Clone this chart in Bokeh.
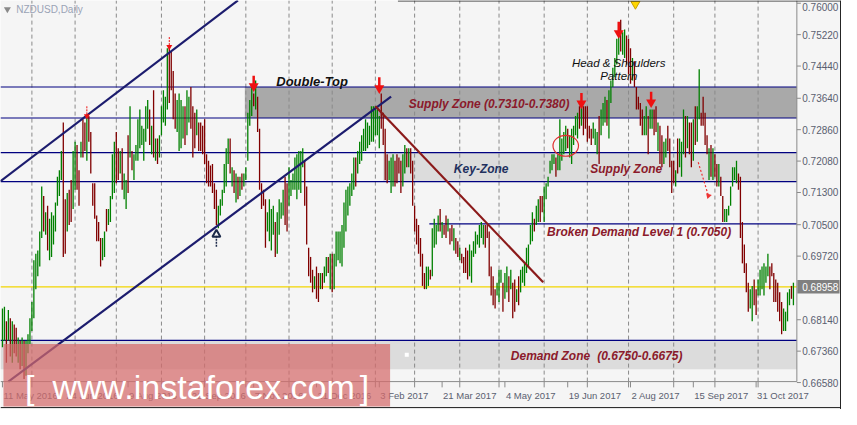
from bokeh.plotting import figure
from bokeh.models import Range1d, ColumnDataSource
from bokeh.embed import file_html
from bokeh.resources import INLINE
from bokeh.core.properties import value
import pandas as pd

# ---------------- data ----------------
symbol_title = "NZDUSD,Daily"
start_date = "2016-05-11"

bar_high = [
    0.6842, 0.6846, 0.6810, 0.6838, 0.6818, 0.6810, 0.6802, 0.6794, 0.6770, 0.6762,
    0.6770, 0.6762, 0.6762, 0.6778, 0.6818, 0.6858, 0.6962, 0.6978, 0.6986, 0.7033,
    0.7145, 0.7121, 0.7081, 0.7097, 0.7065, 0.7081, 0.7073, 0.7105, 0.7169, 0.7185,
    0.7233, 0.7304, 0.7113, 0.7129, 0.7137, 0.7161, 0.7233, 0.7256, 0.7248, 0.7185,
    0.7256, 0.7312, 0.7304, 0.7320, 0.7320, 0.7280, 0.7153, 0.7153, 0.7073, 0.7057,
    0.7017, 0.7017, 0.7033, 0.7089, 0.7089, 0.7121, 0.7225, 0.7256, 0.7280, 0.7240,
    0.7233, 0.7240, 0.7177, 0.7161, 0.7272, 0.7344,
    0.7233, 0.7225, 0.7248, 0.7312, 0.7336, 0.7296, 0.7288, 0.7344, 0.7360, 0.7336,
    0.7296, 0.7384, 0.7264, 0.7264, 0.7272, 0.7344, 0.7384, 0.7368, 0.7488, 0.7488,
    0.7480, 0.7432, 0.7376, 0.7360, 0.7376, 0.7360, 0.7344, 0.7344, 0.7384, 0.7368,
    0.7392, 0.7344, 0.7328, 0.7336, 0.7304, 0.7304, 0.7296, 0.7312, 0.7225, 0.7209,
    0.7197, 0.7201, 0.7153, 0.7137, 0.7097, 0.7113, 0.7137, 0.7201, 0.7240, 0.7264,
    0.7264, 0.7193, 0.7185, 0.7177, 0.7169, 0.7169, 0.7177, 0.7177, 0.7193, 0.7328,
    0.7360, 0.7392, 0.7376, 0.7408, 0.7368, 0.7288, 0.7153, 0.7137,
    0.7113, 0.7081, 0.7113, 0.7089, 0.7097, 0.7057, 0.7081, 0.7113, 0.7105, 0.7137,
    0.7169, 0.7153, 0.7193, 0.7161, 0.7177, 0.7217, 0.7225, 0.7233, 0.7233, 0.7240,
    0.7209, 0.7145, 0.6993, 0.6970, 0.6938, 0.6922, 0.6946, 0.6930, 0.6930, 0.6930,
    0.6946, 0.6970, 0.6970, 0.6978, 0.6978, 0.6978, 0.7033, 0.7033, 0.7033, 0.7049,
    0.7105, 0.7137, 0.7145, 0.7153, 0.7177, 0.7217, 0.7217, 0.7233, 0.7256, 0.7272,
    0.7288, 0.7312, 0.7304, 0.7296, 0.7344, 0.7344, 0.7344, 0.7336, 0.7320, 0.7376,
    0.7328, 0.7288, 0.7225, 0.7209, 0.7217, 0.7225, 0.7209,
    0.7225, 0.7217, 0.7209, 0.7225, 0.7248, 0.7240, 0.7240, 0.7240, 0.7209, 0.7097,
    0.7065, 0.7049, 0.7017, 0.6978, 0.6930, 0.6946, 0.6946, 0.6938, 0.7041, 0.7065,
    0.7049, 0.7073, 0.7089, 0.7057, 0.7049, 0.7073, 0.7065, 0.7041, 0.7049, 0.7041,
    0.7017, 0.7009, 0.6993, 0.6978, 0.6970, 0.6993, 0.6986, 0.7001, 0.6986, 0.7009,
    0.7033, 0.7025, 0.7049, 0.7057, 0.7049, 0.7049, 0.7049, 0.7033, 0.6946, 0.6922,
    0.6890, 0.6906, 0.6938, 0.6938, 0.6906, 0.6930, 0.6946, 0.6922, 0.6938, 0.6906,
    0.6914, 0.6890, 0.6922, 0.6938, 0.6946, 0.6954, 0.6993, 0.7001,
    0.7049, 0.7081, 0.7065, 0.7097, 0.7113, 0.7121, 0.7121, 0.7145, 0.7153, 0.7169,
    0.7209, 0.7225, 0.7225, 0.7217, 0.7225, 0.7312, 0.7264, 0.7280, 0.7296, 0.7288,
    0.7272, 0.7288, 0.7296, 0.7320, 0.7328, 0.7344, 0.7344, 0.7344, 0.7344, 0.7344,
    0.7296, 0.7288, 0.7304, 0.7288, 0.7280, 0.7320, 0.7336, 0.7352, 0.7368, 0.7360,
    0.7384, 0.7408, 0.7440, 0.7464, 0.7512, 0.7535, 0.7559, 0.7528, 0.7535, 0.7520,
    0.7512, 0.7488, 0.7464, 0.7456, 0.7392, 0.7368, 0.7352, 0.7336, 0.7320, 0.7344,
    0.7320, 0.7336, 0.7336, 0.7336, 0.7344, 0.7304, 0.7296, 0.7272,
    0.7256, 0.7264, 0.7296, 0.7264, 0.7209, 0.7209, 0.7185, 0.7264, 0.7264, 0.7256,
    0.7336, 0.7320, 0.7320, 0.7304, 0.7304, 0.7312, 0.7344, 0.7344, 0.7436, 0.7328,
    0.7368, 0.7328, 0.7272, 0.7240, 0.7248, 0.7240, 0.7225, 0.7201, 0.7201, 0.7169,
    0.7121, 0.7089, 0.7089, 0.7097, 0.7145, 0.7193, 0.7193, 0.7209, 0.7177, 0.7169,
    0.7057, 0.7001, 0.6954, 0.6906, 0.6890, 0.6898, 0.6914, 0.6890, 0.6914, 0.6938,
    0.6946, 0.6954, 0.6946, 0.6978, 0.6946, 0.6954, 0.6930, 0.6914, 0.6906, 0.6882,
    0.6858, 0.6842, 0.6834, 0.6882, 0.6890, 0.6898, 0.6906,
]

bar_low = [
    0.6746, 0.6762, 0.6707, 0.6762, 0.6723, 0.6707, 0.6731, 0.6723, 0.6707, 0.6691,
    0.6699, 0.6667, 0.6675, 0.6731, 0.6754, 0.6786, 0.6818, 0.6890, 0.6922, 0.6946,
    0.7017, 0.7033, 0.7025, 0.6986, 0.6962, 0.6970, 0.7001, 0.7033, 0.7097, 0.7121,
    0.7161, 0.6970, 0.6978, 0.7033, 0.7049, 0.7057, 0.7089, 0.7137, 0.7137, 0.7097,
    0.7217, 0.7217, 0.7233, 0.7209, 0.7256, 0.7177, 0.7097, 0.7065, 0.7009, 0.7009,
    0.6946, 0.6962, 0.6970, 0.7033, 0.7049, 0.7057, 0.7113, 0.7129, 0.7153, 0.7161,
    0.7177, 0.7137, 0.7113, 0.7089, 0.7129, 0.7217,
    0.7185, 0.7161, 0.7209, 0.7209, 0.7240, 0.7248, 0.7209, 0.7256, 0.7288, 0.7248,
    0.7225, 0.7217, 0.7209, 0.7201, 0.7217, 0.7272, 0.7304, 0.7296, 0.7336, 0.7352,
    0.7384, 0.7312, 0.7288, 0.7280, 0.7233, 0.7240, 0.7264, 0.7248, 0.7272, 0.7304,
    0.7288, 0.7217, 0.7240, 0.7272, 0.7233, 0.7233, 0.7225, 0.7201, 0.7153, 0.7145,
    0.7145, 0.7129, 0.7089, 0.7049, 0.7041, 0.7073, 0.7097, 0.7129, 0.7145, 0.7201,
    0.7177, 0.7145, 0.7129, 0.7105, 0.7113, 0.7121, 0.7137, 0.7145, 0.7161, 0.7209,
    0.7296, 0.7320, 0.7344, 0.7336, 0.7280, 0.7137, 0.7089, 0.7097,
    0.6993, 0.7033, 0.7009, 0.6986, 0.7025, 0.6970, 0.6978, 0.7025, 0.7065, 0.7073,
    0.7049, 0.7033, 0.7097, 0.7121, 0.7137, 0.7137, 0.7113, 0.7137, 0.7129, 0.7193,
    0.7097, 0.7001, 0.6922, 0.6906, 0.6882, 0.6890, 0.6866, 0.6858, 0.6890, 0.6890,
    0.6906, 0.6922, 0.6930, 0.6890, 0.6882, 0.6890, 0.6946, 0.6962, 0.6954, 0.6946,
    0.6993, 0.7033, 0.7073, 0.7097, 0.7121, 0.7137, 0.7145, 0.7177, 0.7201, 0.7209,
    0.7233, 0.7233, 0.7240, 0.7248, 0.7256, 0.7256, 0.7272, 0.7272, 0.7240, 0.7288,
    0.7248, 0.7161, 0.7153, 0.7161, 0.7129, 0.7145, 0.7145,
    0.7153, 0.7177, 0.7129, 0.7145, 0.7177, 0.7193, 0.7193, 0.7177, 0.7097, 0.7033,
    0.7001, 0.6978, 0.6946, 0.6898, 0.6890, 0.6890, 0.6898, 0.6914, 0.6922, 0.6993,
    0.7001, 0.7033, 0.7033, 0.7017, 0.7025, 0.7017, 0.7033, 0.7001, 0.7009, 0.6986,
    0.6978, 0.6970, 0.6962, 0.6954, 0.6930, 0.6930, 0.6914, 0.6922, 0.6906, 0.6970,
    0.6978, 0.7001, 0.6993, 0.7017, 0.7001, 0.6993, 0.7017, 0.6922, 0.6874, 0.6850,
    0.6842, 0.6874, 0.6858, 0.6906, 0.6834, 0.6866, 0.6882, 0.6858, 0.6890, 0.6818,
    0.6834, 0.6858, 0.6850, 0.6882, 0.6906, 0.6898, 0.6930, 0.6946,
    0.7001, 0.7009, 0.7033, 0.7049, 0.7057, 0.7057, 0.7081, 0.7057, 0.7113, 0.7145,
    0.7177, 0.7185, 0.7201, 0.7169, 0.7185, 0.7185, 0.7209, 0.7225, 0.7233, 0.7240,
    0.7217, 0.7201, 0.7248, 0.7272, 0.7264, 0.7288, 0.7296, 0.7272, 0.7288, 0.7256,
    0.7264, 0.7248, 0.7264, 0.7248, 0.7225, 0.7201, 0.7272, 0.7296, 0.7304, 0.7296,
    0.7264, 0.7352, 0.7392, 0.7416, 0.7448, 0.7472, 0.7480, 0.7472, 0.7464, 0.7448,
    0.7424, 0.7400, 0.7408, 0.7392, 0.7336, 0.7336, 0.7296, 0.7272, 0.7272, 0.7272,
    0.7225, 0.7288, 0.7288, 0.7272, 0.7280, 0.7233, 0.7201, 0.7193,
    0.7201, 0.7217, 0.7233, 0.7193, 0.7129, 0.7153, 0.7145, 0.7177, 0.7193, 0.7169,
    0.7225, 0.7217, 0.7240, 0.7225, 0.7193, 0.7209, 0.7248, 0.7256, 0.7312, 0.7296,
    0.7296, 0.7248, 0.7225, 0.7161, 0.7169, 0.7161, 0.7169, 0.7145, 0.7145, 0.7121,
    0.7057, 0.7057, 0.7057, 0.7073, 0.7097, 0.7145, 0.7161, 0.7153, 0.7137, 0.7017,
    0.6954, 0.6930, 0.6882, 0.6834, 0.6842, 0.6810, 0.6850, 0.6826, 0.6874, 0.6874,
    0.6890, 0.6874, 0.6906, 0.6922, 0.6890, 0.6922, 0.6858, 0.6858, 0.6834, 0.6810,
    0.6778, 0.6786, 0.6786, 0.6810, 0.6850, 0.6866, 0.6850,
]

# g = up bar, r = down bar
bar_dir = (
    "ggrgrgrrgr" "grgggggggg" "grgrgggggg" "grrgrrggrr" "grrgrrrrrr" "rggrggggrr" "grggrg"
    "rggggggggr" "grgrgggggr" "rrrggggrgg" "rrrgrrrrrr" "rrrrgggggg" "rgrgrgrggg" "ggrgrrrr"
    "rggggrgggg" "rrgggggggg" "rrrrrgrrgr" "ggrgrggggg" "ggggggrggg" "gggggggggr" "rrrgggr"
    "rrrggrgrrr" "rrrrrggrgg" "ggrgrrgrrg" "rrgrrrrggg" "gggggrrrrr" "rgggrggrgr" "rgrggggg"
    "ggrggrrggg" "gggrgggggr" "gggggrgrrr" "rrgggrgggr" "ggggggrggr" "rrgrrrrrgg" "rggrrgrr"
    "ggrrrrgrgg" "grgrrgrggr" "rrrgrgrrgr" "rgggggggrr" "rrrrggrrgg" "ggggrrrrrr" "rggggrg"
)

date_tick_labels = ["11 May 2016", "24 Jun 2016", "9 Aug 2016", "22 Sep 2016",
                    "7 Nov 2016", "21 Dec 2016", "3 Feb 2017", "21 Mar 2017",
                    "4 May 2017", "19 Jun 2017", "2 Aug 2017", "15 Sep 2017",
                    "31 Oct 2017"]
date_tick_step = 32

price_ticks = [0.66580, 0.67360, 0.68140, 0.69720, 0.70500, 0.71300, 0.72080,
               0.72860, 0.73640, 0.74440, 0.75220, 0.76000]
last_price = 0.68958

supply_zone = (0.7315, 0.7392)
key_zone = (0.7157, 0.7229)
demand_zone = (0.6691, 0.6763)
broken_level = 0.7052

channel_upper_x = [-1, 120]
channel_upper_y = [0.7158, 0.7607]
channel_lower_x = [3, 198]
channel_lower_y = [0.66604, 0.7368]
down_trend_x = [190, 275.5]
down_trend_y = [0.7344, 0.6907]

arrow_x = [43, 85, 128, 192, 295, 314, 330.5]
arrow_top = [0.7344, 0.7516, 0.7420, 0.7416, 0.7377, 0.7554, 0.7380]
arrow_head = [0.7320, 0.7492, 0.7394, 0.7389, 0.7351, 0.7526, 0.7354]

# ---------------- layout constants (bar index / price units) ----------------
n = len(bar_high)
X0, X1 = -1, 427.5            # whole canvas, horizontally
Y0, Y1 = 0.65911, 0.76068     # whole canvas, vertically
PANE_R = 404.75               # right edge of the price pane
PANE_B = 0.66604              # bottom edge of the price pane
PX = 0.000239                 # price per reference pixel

dates = pd.bdate_range(start_date, periods=n)
months = dates.to_period("M")
month_start_idx = [i for i in range(1, n) if months[i] != months[i - 1]]

p = figure(width=841, height=409, x_range=Range1d(X0, X1), y_range=Range1d(Y0, Y1),
           output_backend="svg", toolbar_location=None,
           x_axis_location=None, y_axis_location=None,
           min_border_left=0, min_border_top=0, min_border_right=0, min_border_bottom=0)
p.background_fill_color = "#f5f5f5"
p.border_fill_color = "#f5f5f5"
p.outline_line_color = None
p.grid.visible = False

FONT = value("Liberation Sans")
AXC = "#5a6070"

# zones
p.quad(left=[123.5, 194, X0], right=[PANE_R] * 3,
       bottom=[supply_zone[0], key_zone[0], demand_zone[0]],
       top=[supply_zone[1], key_zone[1], demand_zone[1]],
       fill_color=["#a9a9a9", "#dcdcdc", "#dcdcdc"], line_color=None)

# monthly dashed grid
p.segment(x0=month_start_idx, x1=month_start_idx, y0=PANE_B, y1=Y1,
          line_color="#8a8a8a", line_dash="4 3", line_width=1)

# horizontal levels
lv = [supply_zone[1], supply_zone[0], key_zone[1], key_zone[0], demand_zone[1]]
p.segment(x0=[X0] * len(lv), x1=[PANE_R] * len(lv), y0=lv, y1=lv, line_color="#000080", line_width=1.2)
p.segment(x0=[217.5], x1=[PANE_R], y0=[broken_level], y1=[broken_level], line_color="#000080", line_width=1.2)
p.segment(x0=[X0], x1=[PANE_R], y0=[last_price], y1=[last_price], line_color="#f2d500", line_width=1.2)

# bars
src = ColumnDataSource(dict(x=list(range(n)), hi=bar_high, lo=bar_low,
                            c=["#008000" if d == "g" else "#800000" for d in bar_dir]))
p.segment(x0="x", y0="lo", x1="x", y1="hi", line_color="c", line_width=1.3, source=src)

# trend lines
p.line(channel_upper_x, channel_upper_y, line_color="#1c1c6e", line_width=2.2)
p.line(channel_lower_x, channel_lower_y, line_color="#1c1c6e", line_width=2.2)
p.line(down_trend_x, down_trend_y, line_color="#8b1a1a", line_width=2.2)

# texts
def add_text(x, y, s, color, size, style, align="left", baseline="middle"):
    p.text(x=[x], y=[y], text=[s], text_color=color, text_font=FONT,
           text_font_size=size, text_font_style=style, text_align=align, text_baseline=baseline)

RED_T = "#8b1a2b"
add_text(139.5, 0.7406, "Double-Top", "#111111", "13px", "bold italic")
add_text(207, 0.7351, "Supply Zone (0.7310-0.7380)", RED_T, "12px", "bold italic")
add_text(230, 0.7189, "Key-Zone", "#22305e", "12px", "bold italic")
add_text(299.5, 0.7189, "Supply Zone", RED_T, "12px", "bold italic")
add_text(314, 0.7452, "Head & Shoulders", "#111111", "11.5px", "italic", "center")
add_text(314, 0.7420, "Pattern", "#111111", "11.5px", "italic", "center")
add_text(277.5, 0.7033, "Broken Demand Level 1 (0.7050)", RED_T, "12px", "bold italic")
add_text(259, 0.6725, "Demand Zone", RED_T, "12px", "bold italic")
add_text(303, 0.6725, "(0.6750-0.6675)", RED_T, "12px", "bold italic")
add_text(7, 0.7585, symbol_title, "#9aa3b5", "10px", "normal")
p.scatter(x=[2.5], y=[0.7585], marker="inverted_triangle", size=7, fill_color="#8a8a8a", line_color=None)

# arrows
small = slice(0, 2)
big = slice(2, None)
p.segment(x0=arrow_x[small], x1=arrow_x[small], y0=arrow_top[small], y1=arrow_head[small],
          line_color="#ee1111", line_width=1, line_dash="2 1")
p.scatter(x=arrow_x[small], y=arrow_head[small], marker="inverted_triangle", size=6,
          fill_color="#ee1111", line_color=None)
p.segment(x0=arrow_x[big], x1=arrow_x[big], y0=arrow_top[big], y1=arrow_head[big],
          line_color="#ee1111", line_width=2.5)
p.scatter(x=arrow_x[big], y=arrow_head[big], marker="inverted_triangle", size=10,
          fill_color="#ee1111", line_color=None)
p.segment(x0=[109], x1=[109], y0=[0.6995], y1=[0.7024], line_color="#1c2a4a", line_width=1.5, line_dash="2 1")
p.scatter(x=[109], y=[0.7026], marker="triangle", size=8, fill_color=None,
          line_color="#1c2a4a", line_width=2)
p.line([354.5, 359.5], [0.7205, 0.7125], line_color="#ee3333", line_width=1.2, line_dash="2 2")
p.scatter(x=[359.7], y=[0.7122], marker="inverted_triangle", size=6, angle=-0.3,
          fill_color="#ee3333", line_color=None)
p.scatter(x=[322.5], y=[0.7598], marker="inverted_triangle", size=9, fill_color="#ffd700", line_color="#c8a000")
p.ellipse(x=[287], y=[0.7246], width=13, height=0.0052, fill_color=None, line_color="#e03030", line_width=1.2)
p.scatter(x=[206], y=[0.6727], marker="square", size=4, fill_color="white", line_color=None)

# ---------------- price scale (right) ----------------
label_y = [min(v, Y1 - 7 * PX) for v in price_ticks]   # keep the top label inside the canvas
p.segment(x0=[PANE_R], x1=[PANE_R], y0=[PANE_B], y1=[Y1], line_color="#8a8a8a", line_width=1)
p.segment(x0=[PANE_R] * len(price_ticks), x1=[406.8] * len(price_ticks),
          y0=price_ticks, y1=price_ticks, line_color="#8a8a8a", line_width=1)
p.text(x=[407.5] * len(price_ticks), y=label_y, text=[f"{v:.5f}" for v in price_ticks],
       text_color=AXC, text_font=FONT, text_font_size="10px",
       text_align="left", text_baseline="middle")
p.quad(left=[405], right=[426.5], bottom=[last_price - 7 * PX], top=[last_price + 7 * PX],
       fill_color="#808080", line_color=None)
p.text(x=[407.5], y=[last_price], text=[f"{last_price:.5f}"], text_color="white",
       text_font=FONT, text_font_size="10px", text_align="left", text_baseline="middle")

# ---------------- time scale (bottom) ----------------
tick_idx = [i * date_tick_step for i in range(len(date_tick_labels))]
all_ticks = sorted(set(tick_idx + month_start_idx))
p.segment(x0=[X0], x1=[PANE_R], y0=[PANE_B], y1=[PANE_B], line_color="#8a8a8a", line_width=1)
p.segment(x0=all_ticks, x1=all_ticks, y0=[PANE_B] * len(all_ticks),
          y1=[PANE_B - 6 * PX] * len(all_ticks), line_color="#8a8a8a", line_width=1)
p.text(x=[t + 0.5 for t in tick_idx], y=[PANE_B - 14 * PX] * len(tick_idx), text=date_tick_labels,
       text_color=AXC, text_font=FONT, text_font_size="9.5px",
       text_align="left", text_baseline="middle")

# ---------------- watermark ----------------
p.quad(left=[0.5], right=[197.5], bottom=[PANE_B - 26 * PX], top=[0.67536],
       fill_color="#d66b6b", fill_alpha=0.72, line_color=None)
p.text(x=[11.5, 25.5, 182], y=[PANE_B - 6 * PX] * 3, text=["[", "www.instaforex.com", "]"],
       text_color="white", text_font=FONT, text_font_size="34px",
       text_align="left", text_baseline="alphabetic")

# outer frame (right, bottom, top-right part)
p.segment(x0=[427, X0, 201.5], x1=[427, 427.5, 427.5], y0=[Y0, Y0 + 2 * PX, Y1 - 0.5 * PX],
          y1=[Y1, Y0 + 2 * PX, Y1 - 0.5 * PX], line_color="#222222", line_width=1)

open("out.html", "w").write(file_html(p, INLINE))
